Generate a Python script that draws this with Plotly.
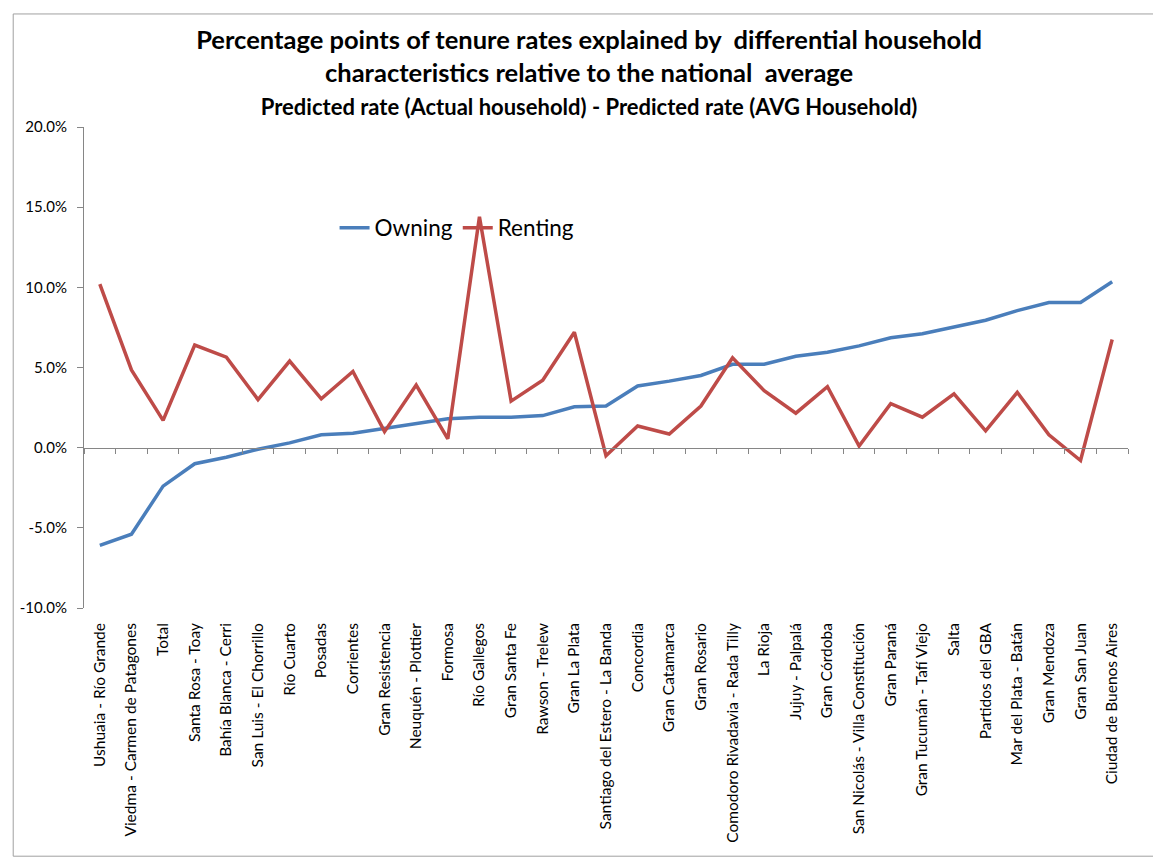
import plotly.graph_objects as go

# Categories (urban agglomerations), ordered as in the chart
cities = [
    "Ushuaia - Río Grande", "Viedma - Carmen de Patagones", "Total",
    "Santa Rosa - Toay", "Bahía Blanca - Cerri", "San Luis - El Chorrillo",
    "Río Cuarto", "Posadas", "Corrientes", "Gran Resistencia",
    "Neuquén - Plottier", "Formosa", "Río Gallegos", "Gran Santa Fe",
    "Rawson - Trelew", "Gran La Plata", "Santiago del Estero - La Banda",
    "Concordia", "Gran Catamarca", "Gran Rosario",
    "Comodoro Rivadavia - Rada Tilly", "La Rioja", "Jujuy - Palpalá",
    "Gran Córdoba", "San Nicolás - Villa Constitución", "Gran Paraná",
    "Gran Tucumán - Tafí Viejo", "Salta", "Partidos del GBA",
    "Mar del Plata - Batán", "Gran Mendoza", "Gran San Juan",
    "Ciudad de Buenos Aires",
]

# Percentage points
owning = [
    -6.1, -5.4, -2.4, -1.0, -0.6, -0.1, 0.3, 0.8, 0.9, 1.2,
    1.5, 1.8, 1.9, 1.9, 2.0, 2.55, 2.6, 3.85, 4.15, 4.5,
    5.2, 5.2, 5.7, 5.95, 6.35, 6.85, 7.1, 7.5, 7.95, 8.55,
    9.05, 9.05, 10.35,
]
renting = [
    10.2, 4.85, 1.7, 6.4, 5.65, 3.0, 5.4, 3.05, 4.75, 1.0,
    3.9, 0.55, 14.4, 2.9, 4.2, 7.2, -0.5, 1.35, 0.85, 2.6,
    5.6, 3.55, 2.15, 3.8, 0.1, 2.75, 1.9, 3.35, 1.05, 3.45,
    0.8, -0.8, 6.75,
]

y_tickvals = [-10, -5, 0, 5, 10, 15, 20]
y_ticktext = ["-10.0%", "-5.0%", "0.0%", "5.0%", "10.0%", "15.0%", "20.0%"]

blue = "#4a7ebb"
red = "#be4b48"
axis_grey = "#868686"
x_range = [-0.5, len(cities) - 0.5]

fig = go.Figure()
fig.add_trace(go.Scatter(x=cities, y=owning, mode="lines", name="Owning",
                         line=dict(color=blue, width=3.5)))
fig.add_trace(go.Scatter(x=cities, y=renting, mode="lines", name="Renting",
                         line=dict(color=red, width=3.5)))

# page has an 8px body margin, so the figure is a bit smaller than the window
fig.update_layout(
    width=1153, height=850,
    font=dict(family="Lato", size=15, color="black"),
    paper_bgcolor="white", plot_bgcolor="white",
    margin=dict(l=72, r=33, t=119, b=250),
    title=dict(
        text="<b>Percentage points of tenure rates explained by  differential household<br>"
             "characteristics relative to the national  average<br>"
             "<span style='font-size:22px'>Predicted rate (Actual household) - Predicted rate (AVG Household)</span></b>",
        x=0.504, xanchor="center", xref="container",
        y=0.952, yanchor="top", yref="container",
        font=dict(family="Lato", size=25.5, color="black"),
    ),
    showlegend=True,
    legend=dict(orientation="h", x=0.24, y=0.79, xanchor="left", yanchor="middle",
                bgcolor="rgba(0,0,0,0)", font=dict(size=22.5), itemwidth=30),
    xaxis=dict(
        type="category", categoryorder="array", categoryarray=cities,
        range=x_range, showline=False, ticks="", showgrid=False, tickangle=-90,
        tickfont=dict(size=15.5), ticklabelstandoff=11,
    ),
    # Horizontal axis line drawn at y = 0 with tick marks between categories
    xaxis2=dict(
        overlaying="x", anchor="free", position=1/3,
        type="category", categoryorder="array", categoryarray=cities,
        range=x_range, showline=True, linecolor=axis_grey, linewidth=1,
        ticks="outside", tickson="boundaries", ticklen=5, tickcolor=axis_grey,
        showticklabels=False, showgrid=False,
    ),
    yaxis=dict(
        range=[-10, 20], tickvals=y_tickvals, ticktext=y_ticktext,
        showline=True, linecolor=axis_grey, linewidth=1,
        ticks="outside", ticklen=6, tickcolor=axis_grey, ticklabelstandoff=7,
        showgrid=False, zeroline=False,
    ),
)

# invisible trace so the zero-line axis is drawn
fig.add_trace(go.Scatter(x=cities, y=owning, xaxis="x2", mode="lines",
                         line=dict(width=0), opacity=0, showlegend=False,
                         hoverinfo="skip"))

# chart border
fig.add_shape(type="rect", xref="paper", yref="paper",
              x0=-0.0678, x1=1.0286, y0=-0.516, y1=1.235,
              line=dict(color="#a0a0a0", width=1))

fig.write_html("out.html")
